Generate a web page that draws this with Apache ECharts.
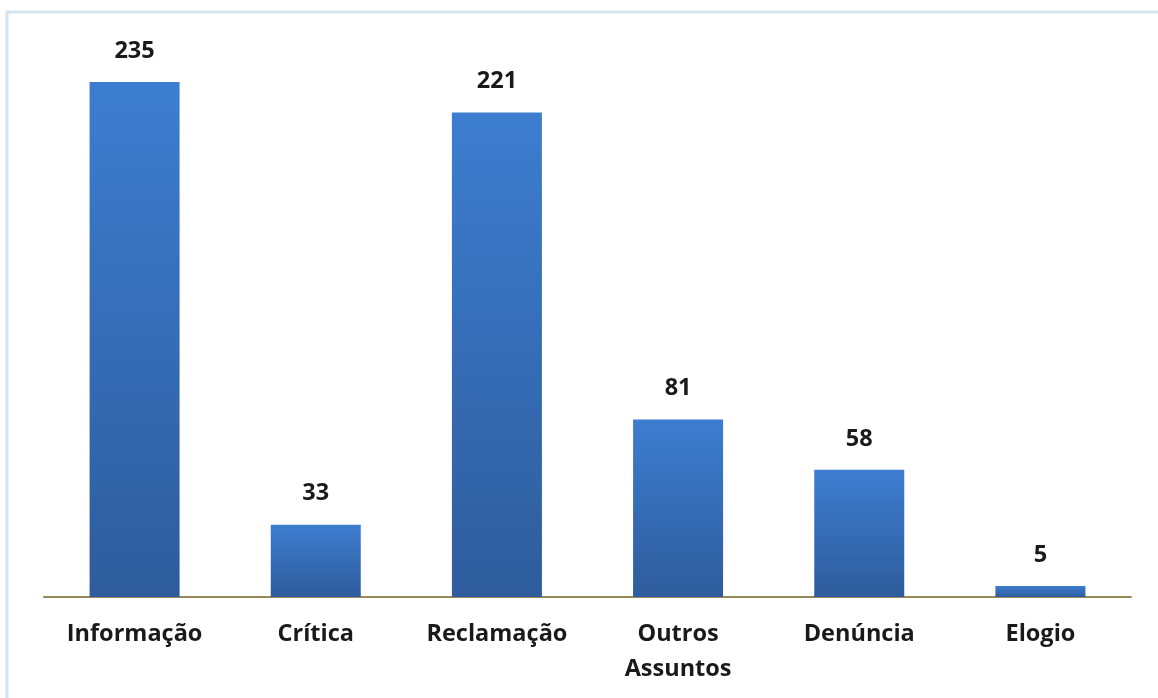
<!DOCTYPE html>
<html>
<head>
<meta charset="utf-8">
<script src="https://cdn.jsdelivr.net/npm/echarts@6/dist/echarts.min.js"></script>
<style>
  html, body { margin: 0; padding: 0; background: #fff; }
  #chart { width: 1158px; height: 698px; }
</style>
</head>
<body>
<div id="chart"></div>
<script>
// Categorias e valores
const categorias = ['Informação', 'Crítica', 'Reclamação', 'Outros\nAssuntos', 'Denúncia', 'Elogio'];
const valores = [235, 33, 221, 81, 58, 5];

const chart = echarts.init(document.getElementById('chart'));

const option = {
    backgroundColor: '#ffffff',
    // borda azul clara em volta
    graphic: [{
        type: 'rect',
        shape: { x: 7, y: 12, width: 1170, height: 700 },
        style: { fill: 'none', stroke: '#d5e3f1', lineWidth: 3 },
        silent: true
    }],
    grid: {
        left: 44,
        right: 27,
        top: 49,
        bottom: 101
    },
    xAxis: {
        type: 'category',
        data: categorias,
        axisTick: { show: false },
        axisLine: {
            lineStyle: { color: '#968a57', width: 2 }
        },
        axisLabel: {
            interval: 0,
            hideOverlap: false,
            margin: 20,
            color: '#1a1a1a',
            fontSize: 23.5,
            fontWeight: 'bold',
            fontFamily: 'Open Sans',
            lineHeight: 35
        }
    },
    yAxis: {
        type: 'value',
        min: 0,
        max: 250,
        show: false,
        splitLine: { show: false }
    },
    series: [{
        type: 'bar',
        data: valores,
        barWidth: 90,
        itemStyle: {
            color: new echarts.graphic.LinearGradient(0, 0, 0, 1, [
                { offset: 0, color: '#3d7dd0' },
                { offset: 1, color: '#2e5c9c' }
            ])
        },
        label: {
            show: true,
            position: 'top',
            distance: 19,
            color: '#1a1a1a',
            fontSize: 23.5,
            fontWeight: 'bold',
            fontFamily: 'Open Sans'
        }
    }]
};

chart.setOption(option);
</script>
</body>
</html>
